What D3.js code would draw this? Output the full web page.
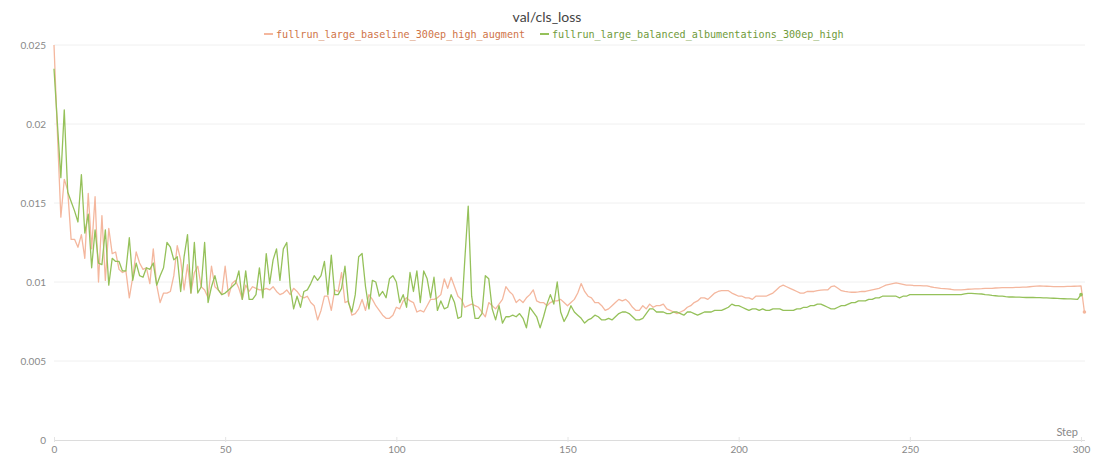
<!DOCTYPE html>
<html>
<head>
<meta charset="utf-8">
<script src="https://cdn.jsdelivr.net/npm/d3@7"></script>
<style>
  html, body { margin: 0; padding: 0; background: #fff; }
  svg { display: block; }
</style>
</head>
<body>
<svg id="chart" width="1094" height="457"></svg>
<script>
// val/cls_loss per training step for two runs
const chartTitle = "val/cls_loss";
const seriesNames = [
  "fullrun_large_baseline_300ep_high_augment",
  "fullrun_large_balanced_albumentations_300ep_high"
];
const xTicks = [0, 50, 100, 150, 200, 250, 300];
const yTicks = [0, 0.005, 0.01, 0.015, 0.02, 0.025];
const yTickLabels = ["0", "0.005", "0.01", "0.015", "0.02", "0.025"];
const xAxisLabel = "Step";

// baseline run, steps 0..300
const baselineLoss = [
  0.0250, 0.0194, 0.0141, 0.0165, 0.0158, 0.0127, 0.0127, 0.0122, 0.0130, 0.0115,
  0.0156, 0.0121, 0.0154, 0.0100, 0.0142, 0.0101, 0.0134, 0.0118, 0.0119, 0.0108,
  0.0106, 0.0107, 0.0090, 0.0103, 0.0119, 0.0112, 0.0108, 0.0109, 0.0099, 0.0121,
  0.0098, 0.0087, 0.0093, 0.0093, 0.0094, 0.0104, 0.0123, 0.0114, 0.0095, 0.0111,
  0.0093, 0.0106, 0.0110, 0.0097, 0.0095, 0.0090, 0.0110, 0.0097, 0.0095, 0.0092,
  0.0110, 0.0091, 0.0099, 0.0101, 0.0096, 0.0089, 0.0098, 0.0094, 0.0097, 0.0096,
  0.0095, 0.0095, 0.0096, 0.0095, 0.0097, 0.0094, 0.0092, 0.0093, 0.0095, 0.0092,
  0.0096, 0.0094, 0.0091, 0.0090, 0.0091, 0.0087, 0.0085, 0.0076, 0.0082, 0.0091,
  0.0091, 0.0082, 0.0095, 0.0094, 0.0106, 0.0087, 0.0088, 0.0079, 0.0080, 0.0083,
  0.0089, 0.0082, 0.0092, 0.0089, 0.0085, 0.0082, 0.0079, 0.0077, 0.0077, 0.0079,
  0.0084, 0.0083, 0.0088, 0.0090, 0.0088, 0.0087, 0.0081, 0.0082, 0.0081, 0.0085,
  0.0089, 0.0089, 0.0090, 0.0092, 0.0102, 0.0096, 0.0103, 0.0097, 0.0091, 0.0089,
  0.0084, 0.0085, 0.0086, 0.0085, 0.0084, 0.0081, 0.0078, 0.0087, 0.0085, 0.0083,
  0.0086, 0.0089, 0.0097, 0.0094, 0.0092, 0.0087, 0.0089, 0.0087, 0.0090, 0.0092,
  0.0095, 0.0088, 0.0087, 0.0087, 0.0085, 0.0087, 0.0088, 0.0088, 0.0089, 0.0087,
  0.0085, 0.0087, 0.0089, 0.0093, 0.0099, 0.0094, 0.0091, 0.0090, 0.0087, 0.0087,
  0.0085, 0.0082, 0.0083, 0.0085, 0.0087, 0.0089, 0.0088, 0.0089, 0.0087, 0.0084,
  0.0082, 0.0082, 0.0085, 0.0083, 0.0086, 0.0084, 0.0085, 0.0085, 0.0086, 0.0083,
  0.0082, 0.0081, 0.0080, 0.0081, 0.0082, 0.0084, 0.0085, 0.0087, 0.0088, 0.0090,
  0.0090, 0.0089, 0.0091, 0.0093, 0.0094, 0.00945, 0.00945, 0.00945, 0.0093, 0.0092,
  0.0091, 0.0091, 0.0090, 0.0090, 0.0089, 0.0091, 0.0091, 0.0091, 0.0091, 0.0092,
  0.0093, 0.0095, 0.0097, 0.0098, 0.0097, 0.0096, 0.0095, 0.0094, 0.0093, 0.0093,
  0.0094, 0.0094, 0.0094, 0.00945, 0.00948, 0.0095, 0.0095, 0.0097, 0.00975, 0.0096,
  0.00945, 0.0094, 0.00937, 0.00935, 0.00935, 0.00937, 0.0094, 0.0094, 0.00945, 0.0095,
  0.00955, 0.0096, 0.0097, 0.0098, 0.00985, 0.0099, 0.00995, 0.0099, 0.00985, 0.0098,
  0.0098, 0.00978, 0.00977, 0.00977, 0.00975, 0.00975, 0.0097, 0.00966, 0.00963, 0.0096,
  0.00958, 0.00956, 0.00954, 0.0095, 0.0095, 0.0095, 0.00952, 0.00954, 0.00955, 0.00956,
  0.00957, 0.00958, 0.0096, 0.0096, 0.0096, 0.00962, 0.00963, 0.00964, 0.00964, 0.00965,
  0.00965, 0.00966, 0.00966, 0.00967, 0.00968, 0.0097, 0.00972, 0.00974, 0.00975, 0.00974,
  0.00973, 0.00972, 0.00971, 0.00971, 0.00971, 0.00971, 0.00972, 0.00972, 0.00973, 0.00974,
  0.00975, 0.0081
];

// balanced/albumentations run, steps 0..300
const balancedLoss = [
  0.0235, 0.0200, 0.0166, 0.0209, 0.0157, 0.0151, 0.0145, 0.0138, 0.0168, 0.0131,
  0.0143, 0.0109, 0.0133, 0.0112, 0.0111, 0.0133, 0.0098, 0.0115, 0.0113, 0.0113,
  0.0107, 0.0107, 0.0128, 0.0101, 0.0112, 0.0104, 0.0103, 0.0109, 0.0108, 0.0112,
  0.0098, 0.0104, 0.0109, 0.0125, 0.0122, 0.0114, 0.0116, 0.0094, 0.0116, 0.0130,
  0.0093, 0.0125, 0.0093, 0.0097, 0.0125, 0.0087, 0.0097, 0.0104, 0.0095, 0.0092,
  0.0093, 0.0095, 0.0097, 0.0099, 0.0107, 0.0089, 0.0107, 0.0089, 0.0089, 0.0092,
  0.0109, 0.0090, 0.0118, 0.0099, 0.0114, 0.0121, 0.0101, 0.0121, 0.0125, 0.0097,
  0.0083, 0.0091, 0.0084, 0.0094, 0.0095, 0.0099, 0.0104, 0.0101, 0.0104, 0.0113,
  0.0092, 0.0117, 0.0092, 0.0092, 0.0096, 0.0110, 0.0087, 0.0081, 0.0092, 0.0116,
  0.0118, 0.0097, 0.0083, 0.0101, 0.0100, 0.0091, 0.0094, 0.0090, 0.0102, 0.0104,
  0.0100, 0.0087, 0.0092, 0.0084, 0.0106, 0.0094, 0.0107, 0.0087, 0.0107, 0.0102,
  0.0090, 0.0103, 0.0082, 0.0088, 0.0083, 0.0084, 0.0092, 0.0087, 0.0077, 0.0078,
  0.0114, 0.0148, 0.0091, 0.0077, 0.0077, 0.0080, 0.0104, 0.0102, 0.0083, 0.0076,
  0.0085, 0.0074, 0.0078, 0.0078, 0.0079, 0.0078, 0.0080, 0.0077, 0.0071, 0.0084,
  0.0081, 0.0078, 0.0071, 0.0078, 0.0086, 0.0092, 0.0086, 0.0100, 0.0081, 0.0075,
  0.0079, 0.0085, 0.0081, 0.0079, 0.0077, 0.0074, 0.0076, 0.0077, 0.0079, 0.0078,
  0.0076, 0.0076, 0.0077, 0.0076, 0.0078, 0.0080, 0.0081, 0.0081, 0.0080, 0.0078,
  0.0076, 0.0076, 0.0077, 0.0080, 0.0083, 0.0083, 0.0081, 0.0081, 0.0081, 0.0080,
  0.0080, 0.0081, 0.0081, 0.0080, 0.0079, 0.0081, 0.0081, 0.0080, 0.0079, 0.0080,
  0.0081, 0.0081, 0.0081, 0.0082, 0.0082, 0.0082, 0.0083, 0.0084, 0.0086, 0.0085,
  0.0085, 0.0084, 0.0083, 0.0082, 0.0083, 0.0083, 0.0082, 0.0083, 0.0082, 0.0082,
  0.0083, 0.0083, 0.0083, 0.0082, 0.0082, 0.0082, 0.0082, 0.0083, 0.0083, 0.0084,
  0.0084, 0.0085, 0.0085, 0.0086, 0.0086, 0.0085, 0.0084, 0.0083, 0.0083, 0.0084,
  0.0085, 0.0085, 0.0086, 0.0087, 0.0087, 0.0088, 0.0088, 0.0088, 0.0089, 0.0089,
  0.0090, 0.0090, 0.0091, 0.0091, 0.0091, 0.0091, 0.0091, 0.0090, 0.0091, 0.0091,
  0.0092, 0.0092, 0.0092, 0.0092, 0.0092, 0.0092, 0.0092, 0.0092, 0.0092, 0.0092,
  0.0092, 0.0092, 0.0092, 0.0092, 0.0092, 0.0092, 0.00925, 0.00928, 0.00928, 0.00927,
  0.00925, 0.00924, 0.0092, 0.00918, 0.00915, 0.00913, 0.00911, 0.0091, 0.00907, 0.00905,
  0.00905, 0.00904, 0.00904, 0.00903, 0.00902, 0.00902, 0.00902, 0.00901, 0.00901, 0.009,
  0.00899, 0.00898, 0.00897, 0.00896, 0.00895, 0.00894, 0.00893, 0.00893, 0.00892, 0.0089,
  0.0092
];

const lineColors = ["#f4b79e", "#95c15a"];
const textColors = ["#cf7448", "#6f9a3a"];

const svg = d3.select("#chart");
const margin = { left: 54, right: 1081, top: 45, bottom: 440 };

const x = d3.scaleLinear().domain([0, 300]).range([margin.left, margin.right]);
const y = d3.scaleLinear().domain([0, 0.025]).range([margin.bottom, margin.top]);

// horizontal grid
svg.append("g")
  .selectAll("line")
  .data(yTicks.filter(d => d > 0))
  .join("line")
  .attr("x1", margin.left)
  .attr("x2", margin.right + 4)
  .attr("y1", d => y(d))
  .attr("y2", d => y(d))
  .attr("stroke", "#f0f0f0")
  .attr("stroke-width", 1);

// y tick labels
svg.append("g")
  .selectAll("text")
  .data(yTicks)
  .join("text")
  .attr("x", 46)
  .attr("y", d => y(d))
  .attr("dy", "0.35em")
  .attr("text-anchor", "end")
  .attr("font-family", "Lato, 'Open Sans', sans-serif")
  .attr("font-size", 10)
  .attr("fill", "#888")
  .text((d, i) => yTickLabels[i]);

// x axis
const xAxis = d3.axisBottom(x)
  .tickValues(xTicks)
  .tickSize(3)
  .tickPadding(3)
  .tickFormat(d3.format("d"));

const gx = svg.append("g")
  .attr("transform", `translate(0,${margin.bottom})`)
  .call(xAxis);
gx.select(".domain").attr("stroke", "#dcdcdc").attr("d", `M${margin.left},0.5H${margin.right + 4}`);
gx.selectAll(".tick line").attr("stroke", "#e4e4e4").attr("y1", -3).attr("y2", 2);
gx.selectAll(".tick text")
  .attr("font-family", "Lato, 'Open Sans', sans-serif")
  .attr("font-size", 10)
  .attr("fill", "#888");

svg.append("text")
  .attr("x", 1078)
  .attr("y", 436)
  .attr("text-anchor", "end")
  .attr("font-family", "Lato, 'Open Sans', sans-serif")
  .attr("font-size", 11)
  .attr("fill", "#888")
  .text(xAxisLabel);

// lines
const line = d3.line()
  .x((d, i) => x(i))
  .y(d => y(d));

const allSeries = [baselineLoss, balancedLoss];
svg.append("g")
  .selectAll("path")
  .data(allSeries)
  .join("path")
  .attr("d", d => line(d))
  .attr("fill", "none")
  .attr("stroke", (d, i) => lineColors[i])
  .attr("stroke-width", 1.3)
  .attr("stroke-linejoin", "round");

// end markers
svg.append("g")
  .selectAll("circle")
  .data(allSeries)
  .join("circle")
  .attr("cx", d => x(d.length - 1))
  .attr("cy", d => y(d[d.length - 1]))
  .attr("r", 1.8)
  .attr("fill", (d, i) => lineColors[i]);

// title
svg.append("text")
  .attr("x", 547)
  .attr("y", 22)
  .attr("text-anchor", "middle")
  .attr("font-family", "Lato, 'Open Sans', sans-serif")
  .attr("font-size", 14)
  .attr("fill", "#444")
  .text(chartTitle);

// legend
const legendX = [264, 540];
const legend = svg.append("g")
  .selectAll("g")
  .data(seriesNames)
  .join("g")
  .attr("transform", (d, i) => `translate(${legendX[i]},34)`);
legend.append("line")
  .attr("x1", 0).attr("x2", 9)
  .attr("y1", 0).attr("y2", 0)
  .attr("stroke", (d, i) => lineColors[i])
  .attr("stroke-width", 2);
legend.append("text")
  .attr("x", 12)
  .attr("y", 0)
  .attr("dy", "0.35em")
  .attr("font-family", "'DejaVu Sans Mono', monospace")
  .attr("font-size", 10.1)
  .attr("fill", (d, i) => textColors[i])
  .text(d => d);
</script>
</body>
</html>
